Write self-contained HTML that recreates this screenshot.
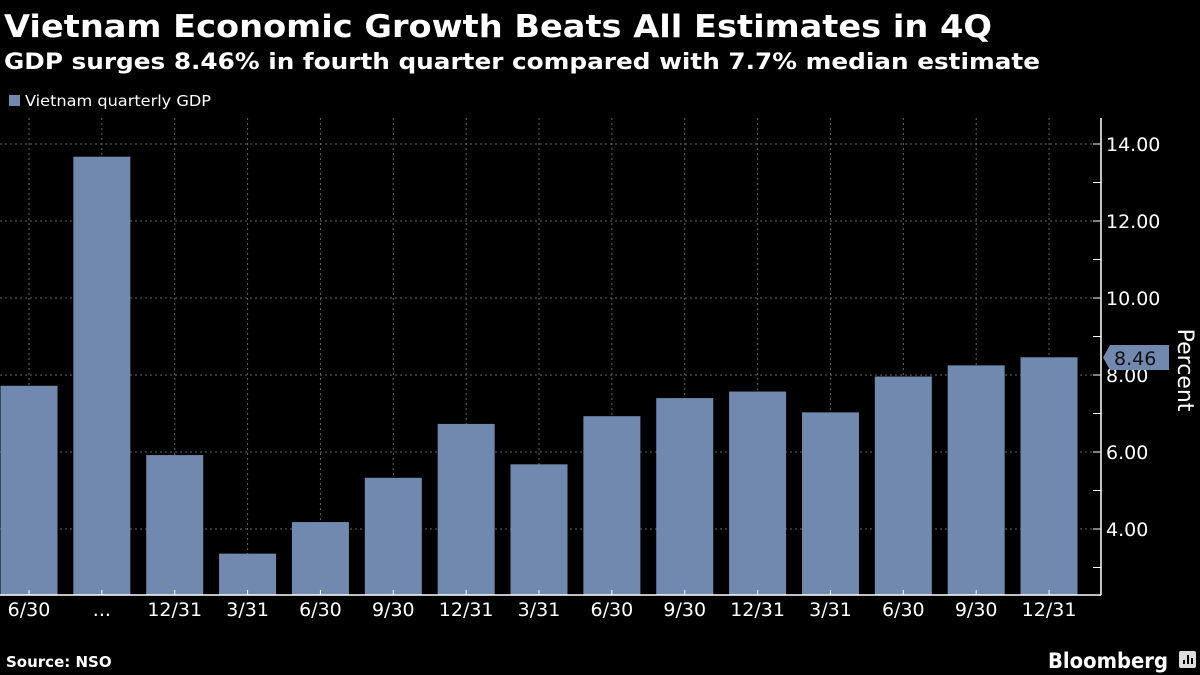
<!DOCTYPE html>
<html><head><meta charset="utf-8"><style>
body{margin:0;background:#000;width:1200px;height:675px;overflow:hidden;font-family:"DejaVu Sans","Liberation Sans",sans-serif;color:#fff}
</style></head><body>
<svg width="1200" height="675" xmlns="http://www.w3.org/2000/svg" style="position:absolute;left:0;top:0">
<text x="4" y="37" font-size="31" font-weight="bold" fill="#fff" font-family="DejaVu Sans, sans-serif" textLength="988" lengthAdjust="spacingAndGlyphs">Vietnam Economic Growth Beats All Estimates in 4Q</text>
<text x="4" y="69" font-size="22" font-weight="bold" fill="#fff" font-family="DejaVu Sans, sans-serif" textLength="1036" lengthAdjust="spacingAndGlyphs">GDP surges 8.46% in fourth quarter compared with 7.7% median estimate</text>
<rect x="9" y="95" width="11" height="11" fill="#7189ae"/>
<text x="25" y="106" font-size="15" fill="#fff" textLength="186" lengthAdjust="spacingAndGlyphs">Vietnam quarterly GDP</text>
<g stroke="#666" stroke-width="1" stroke-dasharray="2,3" id="grid"></g>
<g id="bars"></g>
<g id="axis"></g>
<text transform="translate(1178,370) rotate(90)" text-anchor="middle" font-size="22" fill="#fff">Percent</text>
<polygon points="1103,357.5 1110,345 1169,345 1169,370 1110,370" fill="#7189ae"/>
<text x="1114" y="365" font-size="19" fill="#111">8.46</text>
<text x="6" y="667" font-size="15" font-weight="bold" fill="#fff">Source: NSO</text>
<text x="1048" y="668" font-size="21" font-weight="bold" fill="#fff" textLength="120" lengthAdjust="spacingAndGlyphs">Bloomberg</text>
<rect x="1179" y="651" width="17" height="17" rx="2" fill="#ddd"/>
<g stroke="#000" stroke-width="2"><line x1="1184" y1="664" x2="1184" y2="660"/><line x1="1188" y1="664" x2="1188" y2="655"/><line x1="1192" y1="664" x2="1192" y2="658"/></g>
</svg>
<script>
const ns="http://www.w3.org/2000/svg";
const v=[7.72,13.67,5.92,3.36,4.18,5.33,6.73,5.68,6.93,7.40,7.57,7.03,7.96,8.25,8.46];
const lab=["6/30","...","12/31","3/31","6/30","9/30","12/31","3/31","6/30","9/30","12/31","3/31","6/30","9/30","12/31"];
const y=x=>529-(x-4)*38.5;const base=595;
const g=document.getElementById("grid"),b=document.getElementById("bars"),a=document.getElementById("axis");
function el(p,t,at,txt){const e=document.createElementNS(ns,t);for(const k in at)e.setAttribute(k,at[k]);if(txt)e.textContent=txt;p.appendChild(e);return e;}
for(let i=0;i<15;i++){const c=29+i*72.86;el(g,"line",{x1:c,y1:118,x2:c,y2:base});}
for(let t=4;t<=14;t+=2){el(g,"line",{x1:0,y1:y(t),x2:1100,y2:y(t)});}
for(let i=0;i<15;i++){const c=29+i*72.86;el(b,"rect",{x:c-28.5,y:y(v[i]),width:57,height:base-y(v[i]),fill:"#7189ae"});
el(a,"text",{x:c,y:616,"font-size":19,fill:"#fff","text-anchor":"middle"},lab[i]);
el(a,"line",{x1:c,y1:base,x2:c,y2:base-5,stroke:"#fff"});}
el(a,"line",{x1:1101,y1:118,x2:1101,y2:base,stroke:"#fff","stroke-width":1.5});
el(a,"line",{x1:0,y1:base,x2:1101,y2:base,stroke:"#fff","stroke-width":1.5});
for(let t=3;t<=14;t++){el(a,"line",{x1:1093,y1:y(t),x2:1101,y2:y(t),stroke:"#fff"});}
for(let t=4;t<=14;t+=2){el(a,"text",{x:1106,y:y(t)+7,"font-size":19,fill:"#fff"},t.toFixed(2));}
</script>
</body></html>
